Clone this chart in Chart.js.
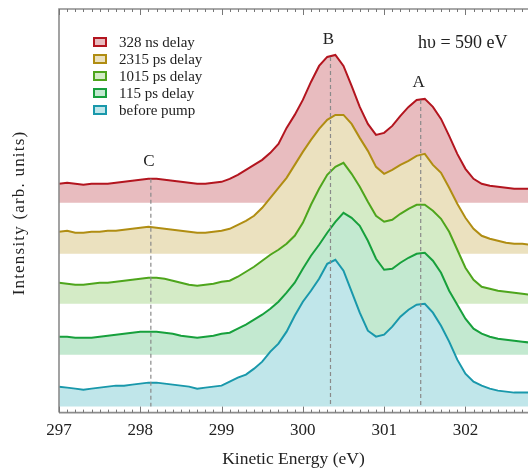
<!DOCTYPE html>
<html>
<head>
<meta charset="utf-8">
<script src="https://cdn.jsdelivr.net/npm/chart.js@4.4.1/dist/chart.umd.min.js"></script>
<style>
  html, body { margin: 0; padding: 0; background: #ffffff; }
  #c { display: block; }
</style>
</head>
<body>
<canvas id="c" width="528" height="474"></canvas>
<script>
// ---------- DATA ----------
const energies = [
  297.0, 297.1, 297.2, 297.3, 297.4, 297.5, 297.6, 297.7, 297.8, 297.9,
  298.0, 298.1, 298.2, 298.3, 298.4, 298.5, 298.6, 298.7, 298.8, 298.9,
  299.0, 299.1, 299.2, 299.3, 299.4, 299.5, 299.6, 299.7, 299.8, 299.9,
  300.0, 300.1, 300.2, 300.3, 300.4, 300.5, 300.6, 300.7, 300.8, 300.9,
  301.0, 301.1, 301.2, 301.3, 301.4, 301.5, 301.6, 301.7, 301.8, 301.9,
  302.0, 302.1, 302.2, 302.3, 302.4, 302.5, 302.6, 302.7, 302.8
];

const seriesLabels = ["328 ns delay", "2315 ps delay", "1015 ps delay", "115 ps delay", "before pump"];

// vertical offsets of each spectrum (waterfall baseline)
const seriesOffsets = [210, 159, 109, 58, 6];

// intensities above each baseline (arb. units)
const red328ns = [
  19, 20, 19, 18, 19, 19, 19, 20, 21, 22,
  23, 24, 24, 23, 22, 21, 20, 19, 19, 20,
  21, 24, 28, 33, 38, 43, 50, 59, 75, 88,
  103, 121, 137, 146, 148, 137, 117, 96, 79, 68,
  70, 77, 87, 96, 103, 104, 96, 84, 67, 49,
  34, 24, 19, 17, 16, 15, 14, 14, 14
];
const gold2315ps = [
  22, 23, 21, 21, 22, 22, 23, 23, 24, 25,
  26, 27, 26, 25, 24, 23, 22, 21, 21, 22,
  23, 25, 29, 33, 38, 46, 56, 66, 76, 89,
  102, 114, 125, 134, 139, 139, 130, 116, 103, 87,
  80, 84, 89, 93, 98, 100, 89, 81, 66, 50,
  36, 25, 18, 15, 13, 11, 10, 10, 9
];
const lime1015ps = [
  21, 20, 19, 19, 20, 21, 21, 22, 23, 24,
  25, 26, 26, 25, 23, 21, 19, 18, 19, 20,
  22, 23, 27, 32, 37, 43, 49, 54, 60, 68,
  81, 99, 115, 129, 137, 141, 130, 117, 102, 88,
  82, 84, 90, 95, 99, 99, 93, 85, 72, 54,
  36, 24, 17, 15, 13, 12, 11, 10, 9
];
const green115ps = [
  18, 18, 17, 17, 17, 18, 19, 20, 21, 22,
  23, 23, 23, 22, 21, 19, 18, 17, 18, 19,
  21, 22, 26, 30, 35, 40, 46, 53, 62, 72,
  86, 99, 110, 122, 133, 142, 137, 129, 114, 96,
  85, 86, 92, 97, 101, 102, 94, 82, 64, 50,
  36, 26, 21, 18, 16, 15, 14, 13, 12
];
const tealBefore = [
  20, 19, 18, 17, 18, 19, 20, 21, 21, 22,
  23, 24, 24, 23, 22, 21, 20, 18, 19, 20,
  21, 25, 29, 32, 38, 45, 55, 63, 75, 91,
  105, 116, 128, 143, 147, 136, 115, 94, 76, 70,
  72, 80, 90, 97, 102, 103, 94, 81, 65, 47,
  33, 25, 21, 18, 16, 15, 14, 14, 14
];

const xTickValues = [297, 298, 299, 300, 301, 302];
const peakLabels = ["C", "B", "A"];
const peakEnergies = [298.13, 300.34, 301.45];

// ---------- STYLE ----------
const lineColors = ["#b3151f", "#b08d12", "#4ea51c", "#17a03c", "#1998ab"];
const fillColors = ["#e8bcbf", "#ebe1bf", "#d4ebc6", "#c3e9d0", "#c0e6ea"];
const seriesValues = [red328ns, gold2315ps, lime1015ps, green115ps, tealBefore];
const FONT = "'Liberation Serif', 'Times New Roman', serif";

const datasets = seriesValues.map((vals, i) => ({
  label: seriesLabels[i],
  data: energies.map((e, k) => ({ x: e, y: seriesOffsets[i] + vals[k] })),
  borderColor: lineColors[i],
  backgroundColor: fillColors[i],
  borderWidth: 2,
  pointRadius: 0,
  tension: 0,
  fill: { value: seriesOffsets[i] },
  order: seriesValues.length - 1 - i
}));

const decor = {
  id: 'decor',
  afterDatasetsDraw(chart) {
    const ctx = chart.ctx;
    const xs = chart.scales.x, ys = chart.scales.y;
    ctx.save();
    ctx.strokeStyle = '#8a8a8a';
    ctx.lineWidth = 1.2;
    const topData = datasets[0].data;
    peakEnergies.forEach((e, j) => {
      const x = xs.getPixelForValue(e);
      let best = 0;
      topData.forEach((p, k) => { if (Math.abs(p.x - e) < Math.abs(topData[best].x - e)) best = k; });
      const yTop = ys.getPixelForValue(topData[best].y);
      const yBot = ys.getPixelForValue(seriesOffsets[seriesOffsets.length - 1]);
      ctx.setLineDash([4, 3]);
      ctx.beginPath();
      ctx.moveTo(x, yTop);
      ctx.lineTo(x, yBot);
      ctx.stroke();
      ctx.setLineDash([]);
      ctx.fillStyle = '#222';
      ctx.font = "17px " + FONT;
      ctx.textAlign = 'center';
      ctx.textBaseline = 'middle';
      ctx.fillText(peakLabels[j], x - 2, yTop - 17);
    });
    ctx.restore();
  },
  afterDraw(chart) {
    const ctx = chart.ctx;
    const xs = chart.scales.x;
    const a = chart.chartArea;
    ctx.save();
    // frame
    ctx.strokeStyle = '#8c8c8c';
    ctx.lineWidth = 1.6;
    ctx.beginPath();
    ctx.moveTo(a.left, a.bottom);
    ctx.lineTo(a.left, a.top);
    ctx.lineTo(a.right, a.top);
    ctx.moveTo(a.left, a.bottom);
    ctx.lineTo(a.right, a.bottom);
    ctx.stroke();
    // ticks (inward, top & bottom)
    ctx.strokeStyle = '#777';
    ctx.lineWidth = 1;
    for (let t = 0; t <= 60; t++) {
      const v = 297 + t * 0.1;
      const x = Math.round(xs.getPixelForValue(v)) + 0.5;
      if (x > a.right) break;
      const major = t % 10 === 0;
      const len = major ? 6 : 3;
      ctx.beginPath();
      ctx.moveTo(x, a.bottom);
      ctx.lineTo(x, a.bottom - len);
      ctx.moveTo(x, a.top);
      ctx.lineTo(x, a.top + len);
      ctx.stroke();
    }
    // legend
    const ly0 = 42, ldy = 17;
    ctx.font = "15px " + FONT;
    ctx.textBaseline = 'middle';
    ctx.textAlign = 'left';
    seriesLabels.forEach((lab, i) => {
      const y = ly0 + i * ldy;
      ctx.fillStyle = fillColors[i];
      ctx.fillRect(94, y - 4, 12, 8);
      ctx.strokeStyle = lineColors[i];
      ctx.lineWidth = 2;
      ctx.strokeRect(94, y - 4, 12, 8);
      ctx.fillStyle = '#222';
      ctx.fillText(lab, 119, y + 1);
    });
    // photon energy annotation
    ctx.font = "18px " + FONT;
    ctx.fillStyle = '#222';
    ctx.fillText("h\u03C5 = 590 eV", 418, 43);
    // y axis title
    ctx.save();
    ctx.translate(20, 213);
    ctx.rotate(-Math.PI / 2);
    ctx.textAlign = 'center';
    ctx.font = "17px " + FONT;
    ctx.letterSpacing = '1.2px';
    ctx.fillText("Intensity (arb. units)", 0, 0);
    ctx.restore();
    ctx.restore();
  }
};

new Chart(document.getElementById('c'), {
  type: 'line',
  data: { datasets },
  options: {
    responsive: false,
    animation: false,
    devicePixelRatio: 1,
    layout: { padding: { left: 59, top: 9, right: 0, bottom: 2 } },
    plugins: { legend: { display: false }, tooltip: { enabled: false } },
    scales: {
      x: {
        type: 'linear',
        min: 297,
        max: 302.77,
        afterBuildTicks: (axis) => { axis.ticks = xTickValues.map(v => ({ value: v })); },
        grid: { display: false, drawTicks: false },
        border: { display: false },
        ticks: {
          color: '#222',
          padding: 8,
          maxRotation: 0,
          autoSkip: false,
          font: { family: FONT, size: 17 },
          callback: (v) => String(v)
        },
        title: {
          display: true,
          text: 'Kinetic Energy (eV)',
          color: '#222',
          font: { family: FONT, size: 17.5 },
          padding: { top: 0, bottom: 2 }
        }
      },
      y: { display: false, min: 0, max: 404 }
    }
  },
  plugins: [decor]
});
</script>
</body>
</html>
